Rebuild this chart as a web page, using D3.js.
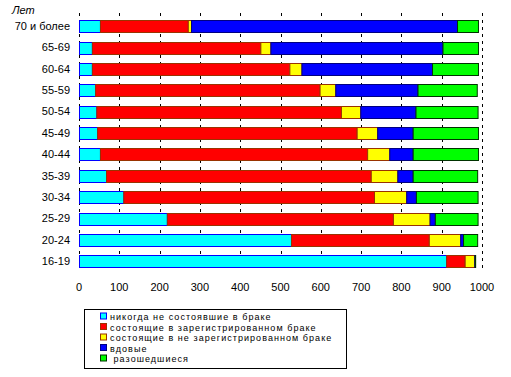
<!DOCTYPE html>
<html>
<head>
<meta charset="utf-8">
<script src="https://cdn.jsdelivr.net/npm/d3@7"></script>
<style>
  body { margin: 0; background: #fff; }
  text { font-family: "Liberation Sans", Arial, sans-serif; fill: #000; }
</style>
</head>
<body>
<div id="chart"></div>
<script>
// age groups, top to bottom
const ages = ["70 и более", "65-69", "60-64", "55-59", "50-54", "45-49",
              "40-44", "35-39", "30-34", "25-29", "20-24", "16-19"]

const seriesNames = [
  "никогда не состоявшие в браке",
  "состоящие в зарегистрированном браке",
  "состоящие в не зарегистрированном браке",
  "вдовые",
  " разошедшиеся"
]

// per 1000 people
const neverMarried = [52, 32, 32, 40, 43, 45, 52, 67, 110, 218, 526, 911]
const registered   = [218, 418, 490, 557, 607, 644, 663, 657, 622, 561, 342, 46]
const unregistered = [8, 25, 30, 39, 48, 51, 55, 66, 80, 91, 78, 24]
const widowed      = [660, 427, 324, 204, 137, 88, 58, 38, 24, 13, 7, 1]
const divorced     = [52, 88, 114, 147, 154, 162, 162, 160, 153, 106, 35, 1]

const xTicks = [0, 100, 200, 300, 400, 500, 600, 700, 800, 900, 1000]

const fills   = ["#00ffff", "#ff0000", "#ffff00", "#0000ff", "#00ff00"]
const strokes = ["#0000ff", "#993300", "#993300", "#000080", "#003300"]

const width = 511, height = 377

const keys = ["s0", "s1", "s2", "s3", "s4"]
const rows = ages.map((a, i) => ({
  age: a,
  s0: neverMarried[i], s1: registered[i], s2: unregistered[i],
  s3: widowed[i], s4: divorced[i]
}))

const svg = d3.select("#chart").append("svg")
  .attr("width", width).attr("height", height)

const x = d3.scaleLinear().domain([0, 1000]).range([79, 482])
const y = d3.scaleBand().domain(ages).range([15.3, 271.7])
  .paddingInner(0.46).paddingOuter(0.23)

// dashed vertical grid
svg.append("g").selectAll("line")
  .data(xTicks).enter().append("line")
  .attr("x1", d => Math.round(x(d)) + 0.5).attr("x2", d => Math.round(x(d)) + 0.5)
  .attr("y1", 13).attr("y2", 270)
  .attr("stroke", "#000").attr("stroke-width", 1)
  .attr("stroke-dasharray", "3,4")

// x axis labels
svg.append("g").selectAll("text")
  .data(xTicks).enter().append("text")
  .attr("x", d => x(d)).attr("y", 291)
  .attr("text-anchor", "middle").style("font-size", "11px")
  .text(d => d)

// y labels
svg.append("g").selectAll("text")
  .data(ages).enter().append("text")
  .attr("x", 70).attr("y", d => y(d) + y.bandwidth() / 2 + 4)
  .attr("text-anchor", "end").style("font-size", "11px")
  .text(d => d)

svg.append("text").attr("x", 12).attr("y", 14)
  .style("font-size", "11px").style("font-style", "italic")
  .text("Лет")

// stacked bars
const stacked = d3.stack().keys(keys)(rows)
stacked.forEach((layer, k) => {
  svg.append("g").selectAll("rect")
    .data(layer).enter().append("rect")
    .attr("x", d => x(d[0]) + 0.5)
    .attr("y", d => Math.round(y(d.data.age)) + 0.5)
    .attr("width", d => Math.max(0, x(d[1]) - x(d[0])))
    .attr("height", Math.round(y.bandwidth()))
    .attr("fill", fills[k])
    .attr("stroke", strokes[k]).attr("stroke-width", 1)
})

// legend
const lg = svg.append("g")
lg.append("rect").attr("x", 84.5).attr("y", 309.5).attr("width", 262).attr("height", 59)
  .attr("fill", "#fff").attr("stroke", "#000")

const ly = d3.scalePoint().domain(seriesNames).range([316.5, 358.5])
seriesNames.forEach((n, k) => {
  lg.append("rect").attr("x", 100.5).attr("y", ly(n) - 3.5)
    .attr("width", 6).attr("height", 6)
    .attr("fill", fills[k]).attr("stroke", strokes[k])
  lg.append("text").attr("x", 110).attr("y", ly(n) + 3.5)
    .style("font-size", "9px").style("letter-spacing", "1.05px")
    .style("white-space", "pre")
    .text(n)
})
</script>
</body>
</html>
